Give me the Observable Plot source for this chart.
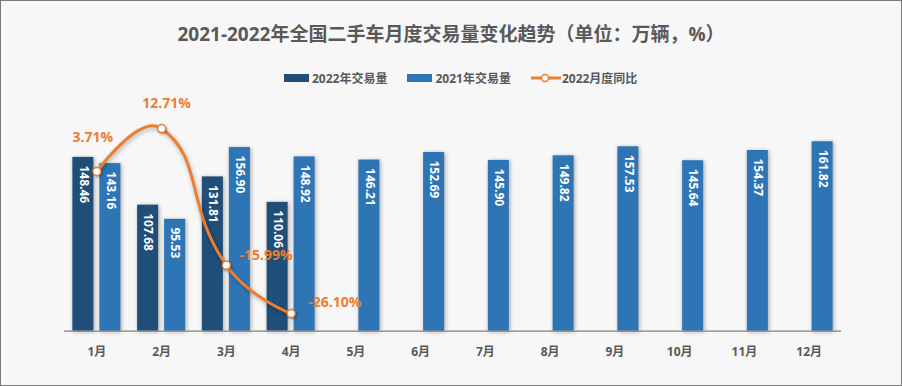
<!DOCTYPE html>
<html>
<head>
<meta charset="utf-8">
<script src="https://cdn.jsdelivr.net/npm/d3@7"></script>
<script src="https://cdn.jsdelivr.net/npm/@observablehq/plot@0.6"></script>
<style>
  html, body { margin: 0; padding: 0; background: #f7f7f7; }
  #wrap { position: relative; width: 902px; height: 386px; background: #f7f7f7; overflow: hidden;
          font-family: "Open Sans", "Noto Sans CJK SC", sans-serif; }
  #border { position: absolute; left: 0; top: 0; width: 902px; height: 386px; box-sizing: border-box;
            border: 1px solid #7a7a7a; pointer-events: none; }
  #title { position: absolute; left: 0; top: 22px; width: 902px; text-align: center; font-size: 19px;
           line-height: 24px; font-weight: bold; color: #595959; }
  #legend { position: absolute; left: 284px; top: 70px; height: 16px; display: flex; align-items: center;
            font-size: 12px; font-weight: bold; color: #595959; }
  .item { display: flex; align-items: center; margin-right: 20px; }
  .sw { display: inline-block; width: 25px; height: 8px; margin-right: 3px; }
  #chart { position: absolute; left: 0; top: 90px; }
</style>
</head>
<body>
<div id="wrap">
  <div id="title"></div>
  <div id="legend"></div>
  <div id="chart"></div>
  <div id="border"></div>
</div>
<script>
const titleText = "2021-2022年全国二手车月度交易量变化趋势（单位：万辆，%）";
const seriesNames = ["2022年交易量", "2021年交易量", "2022月度同比"];
const months = ["1月","2月","3月","4月","5月","6月","7月","8月","9月","10月","11月","12月"];
const sales2022 = [148.46, 107.68, 131.81, 110.06];
const sales2021 = [143.16, 95.53, 156.90, 148.92, 146.21, 152.69, 145.90, 149.82, 157.53, 145.64, 154.37, 161.82];
const yoy2022 = [3.71, 12.71, -15.99, -26.10];

const yDomain = [0, 180];          // primary axis (万辆)
const pctDomain = [-29.8, 14.4];   // secondary axis (%), aligned to the same range

const C22 = "#1F4E79", C21 = "#2E75B6", CO = "#ED7D31";

document.getElementById("title").textContent = titleText;
document.getElementById("legend").innerHTML =
  `<div class="item"><span class="sw" style="background:${C22}"></span><span>${seriesNames[0]}</span></div>` +
  `<div class="item"><span class="sw" style="background:${C21}"></span><span>${seriesNames[1]}</span></div>` +
  `<div class="item" style="margin-right:0"><svg width="30" height="10" style="margin-right:1px"><line x1="0" y1="5" x2="30" y2="5" stroke="${CO}" stroke-width="3"/><circle cx="14" cy="5" r="3.5" fill="#fff" stroke="${CO}" stroke-width="1.5"/></svg><span>${seriesNames[2]}</span></div>`;

const pctToY = d3.scaleLinear().domain(pctDomain).range(yDomain);
const d22 = sales2022.map((v, i) => ({month: months[i], value: v}));
const d21 = sales2021.map((v, i) => ({month: months[i], value: v}));
const dY = yoy2022.map((v, i) => ({month: months[i], pct: v, y: pctToY(v)}));

// Smooth curve in the style of the source chart (bezier with neighbour-based control points)
function smoothCurve(context) {
  let pts = [];
  const s = 0.5;
  return {
    areaStart() {}, areaEnd() {},
    lineStart() { pts = []; },
    point(x, y) { pts.push([+x, +y]); },
    lineEnd() {
      const n = pts.length;
      if (!n) return;
      const cps = [];
      for (let i = 0; i < n; i++) {
        const p = pts[i];
        if (i === 0 || i === n - 1) { cps.push(p.slice()); continue; }
        const a = pts[i - 1], b = pts[i + 1];
        const vx = (b[0] - a[0]) * s, vy = (b[1] - a[1]) * s;
        let d0 = Math.hypot(p[0] - a[0], p[1] - a[1]);
        let d1 = Math.hypot(p[0] - b[0], p[1] - b[1]);
        const sum = d0 + d1;
        if (sum) { d0 /= sum; d1 /= sum; }
        cps.push([p[0] - vx * d0, p[1] - vy * d0]);
        cps.push([p[0] + vx * d1, p[1] + vy * d1]);
      }
      context.moveTo(pts[0][0], pts[0][1]);
      if (n === 1) return;
      for (let i = 0; i < n - 1; i++) {
        const c0 = cps[2 * i], c1 = cps[2 * i + 1], q = pts[i + 1];
        context.bezierCurveTo(c0[0], c0[1], c1[0], c1[1], q[0], q[1]);
      }
    }
  };
}

const font = "\"Open Sans\", \"Noto Sans CJK SC\", sans-serif";
const inset = 21.875;
const labelOffsets = [
  {textAnchor: "middle", dx: -4, dy: -34},
  {textAnchor: "middle", dx: 5, dy: -25},
  {textAnchor: "start", dx: 13, dy: -10},
  {textAnchor: "start", dx: 17, dy: -11}
];

const barLabel = (data, dx) => Plot.text(data, {
  x: "month", y: "value", text: d => d.value.toFixed(2), rotate: 90,
  textAnchor: "start", lineAnchor: "middle", dx, dy: 8,
  fill: "white", fontSize: 12, fontWeight: "bold"
});

const chart = Plot.plot({
  width: 902, height: 296,
  marginTop: 30, marginBottom: 55.3, marginLeft: 64, marginRight: 61,
  style: {background: "transparent", fontFamily: font, overflow: "visible"},
  x: {domain: months, padding: 0, round: false, axis: null},
  y: {domain: yDomain, axis: null},
  marks: [
    Plot.barY(d22, {x: "month", y: "value", fill: C22, insetLeft: inset, insetRight: inset, dx: -13.5}),
    Plot.barY(d21, {x: "month", y: "value", fill: C21, insetLeft: inset, insetRight: inset, dx: 13.5}),
    Plot.ruleY([0], {stroke: "#808080", strokeWidth: 1.2}),
    barLabel(d22, -13.5),
    barLabel(d21, 13.5),
    Plot.text(months, {x: d => d, frameAnchor: "bottom", dy: 21, lineAnchor: "middle",
      fill: "#595959", fontSize: 12, fontWeight: "bold"}),
    Plot.line(dY, {x: "month", y: "y", stroke: CO, strokeWidth: 3, curve: smoothCurve}),
    Plot.dot(dY, {x: "month", y: "y", r: 4, fill: "white", stroke: CO, strokeWidth: 1.5}),
    ...dY.map((d, i) => Plot.text([d], {
      x: "month", y: "y", text: v => v.pct.toFixed(2) + "%",
      textAnchor: labelOffsets[i].textAnchor, dx: labelOffsets[i].dx, dy: labelOffsets[i].dy,
      lineAnchor: "middle", fill: CO, fontSize: 14, fontWeight: "bold"
    }))
  ]
});
document.getElementById("chart").appendChild(chart);
chart.querySelectorAll('g[aria-label="bar"]').forEach(g => g.style.filter = "drop-shadow(1px 1px 2px rgba(0,0,0,0.35))");
chart.querySelectorAll('g[aria-label="line"]').forEach(g => g.style.filter = "drop-shadow(1px 2px 2px rgba(0,0,0,0.3))");
chart.querySelectorAll('g[aria-label="dot"]').forEach(g => g.style.filter = "drop-shadow(1px 1px 1px rgba(0,0,0,0.3))");
</script>
</body>
</html>
